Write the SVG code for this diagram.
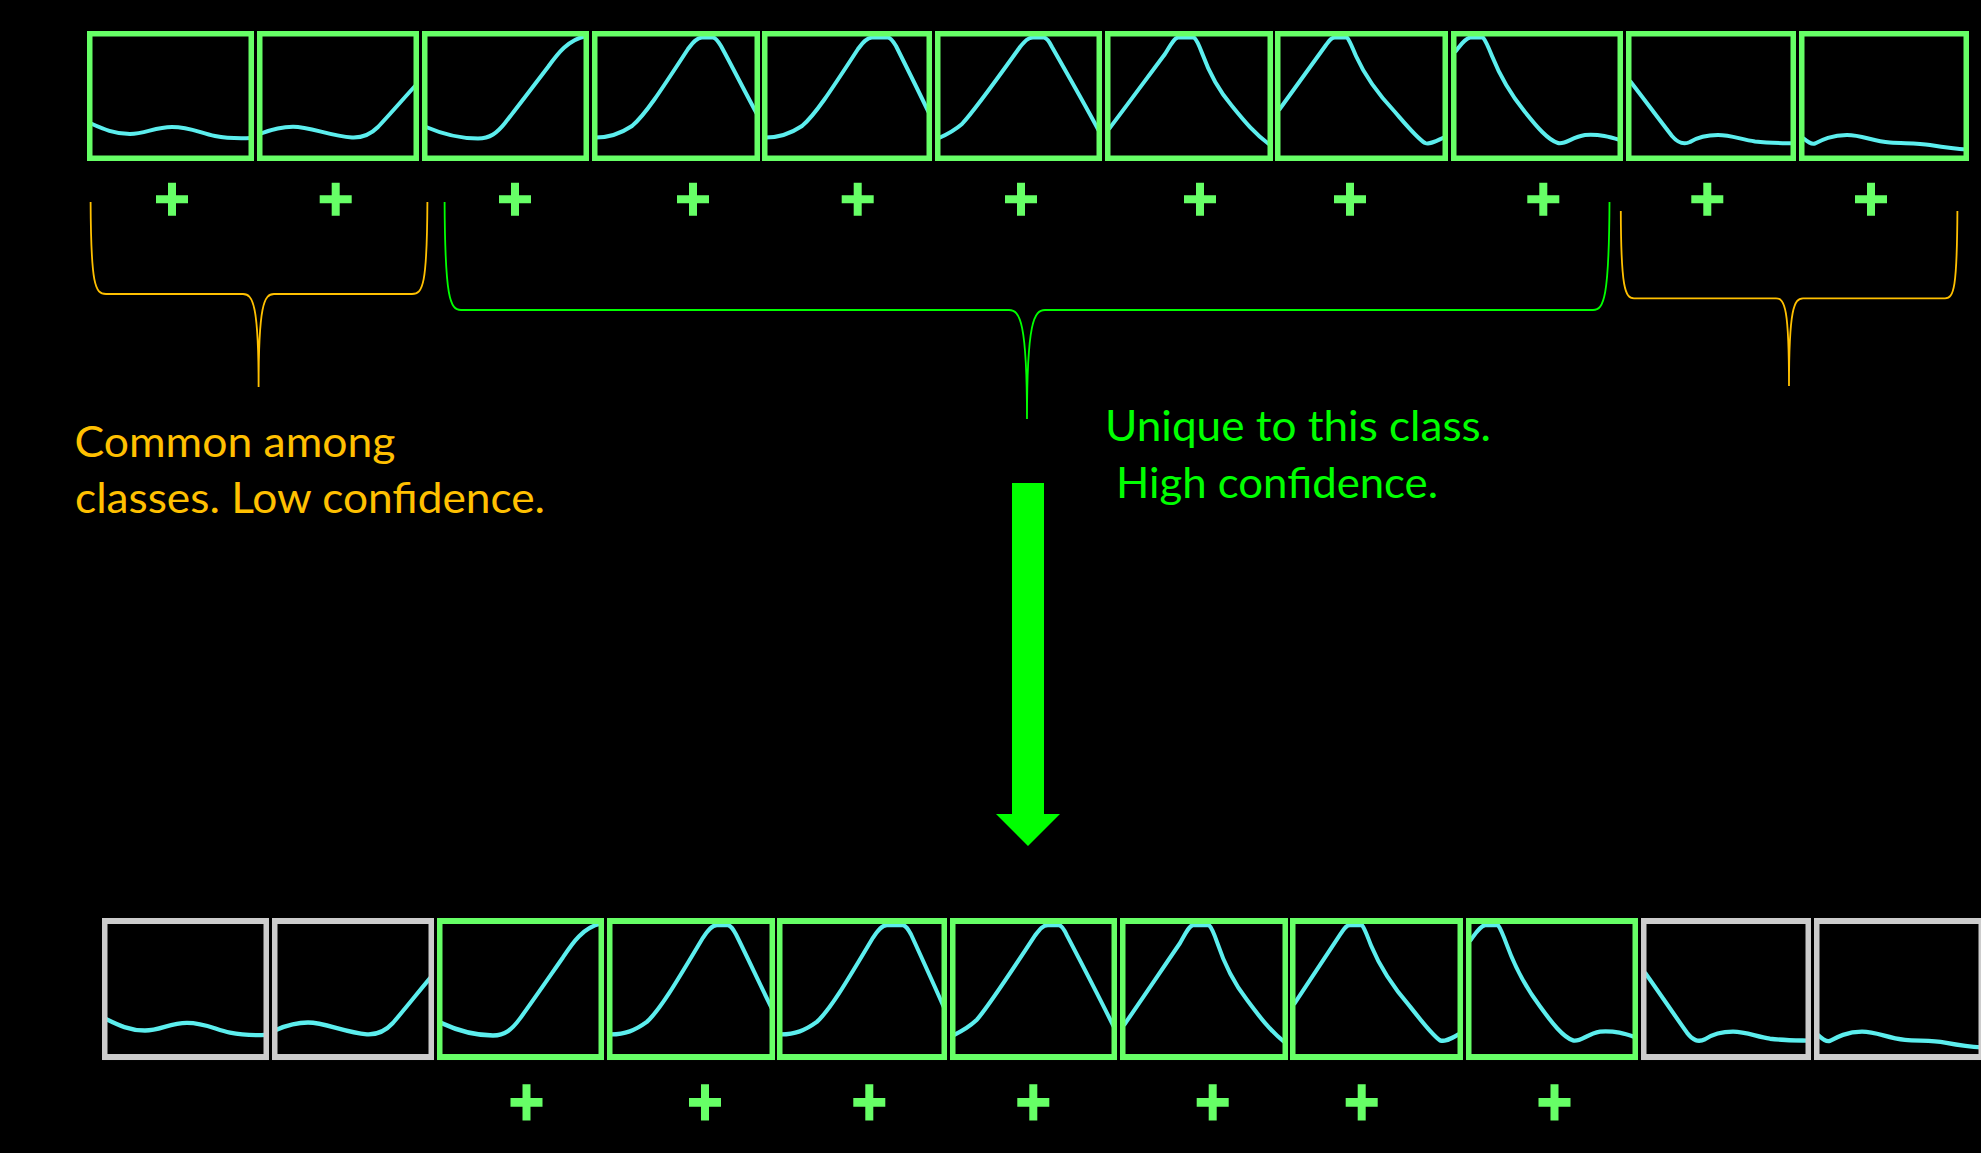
<svg xmlns="http://www.w3.org/2000/svg" xmlns:xlink="http://www.w3.org/1999/xlink" width="1981" height="1153" viewBox="0 0 1981 1153">
<style>
.bx{fill:none;stroke-width:5.5}
.g{stroke:#66FF66}
.gr{stroke:#CCCCCC}
.curve{fill:none;stroke:#5CEEEE;stroke-width:4;stroke-linejoin:round}
.plus{fill:#66FF66}
.brace-o{fill:none;stroke:#FFC000;stroke-width:1.8}
.brace-g{fill:none;stroke:#00FF00;stroke-width:1.8}
.lbl{font-family:Lato,"Liberation Sans",sans-serif;font-size:42px}
.lo{fill:#FFC000}
.lg{fill:#00FF00}
</style>
<defs>
<clipPath id="k1"><rect x="87" y="31" width="167" height="130"/></clipPath>
<clipPath id="k2"><rect x="257" y="31" width="162" height="130"/></clipPath>
<clipPath id="k3"><rect x="422" y="31" width="167" height="130"/></clipPath>
<clipPath id="k4"><rect x="592" y="31" width="168" height="130"/></clipPath>
<clipPath id="k5"><rect x="762" y="31" width="170" height="130"/></clipPath>
<clipPath id="k6"><rect x="935" y="31" width="167" height="130"/></clipPath>
<clipPath id="k7"><rect x="1105" y="31" width="168" height="130"/></clipPath>
<clipPath id="k8"><rect x="1275" y="31" width="173" height="130"/></clipPath>
<clipPath id="k9"><rect x="1451" y="31" width="172" height="130"/></clipPath>
<clipPath id="k10"><rect x="1626" y="31" width="170" height="130"/></clipPath>
<clipPath id="k11"><rect x="1799" y="31" width="170" height="130"/></clipPath>
<path id="c1" class="curve" clip-path="url(#k1)" d="M91 123.5 C103 129 115 134 130 134 C145 134 155 127 172 127 C190 127 200 133 215 136 C228 138.5 240 138.5 251 138"/>
<path id="c2" class="curve" clip-path="url(#k2)" d="M261 133.5 C275 128 285 126.7 293 126.7 C310 126.7 330 136 352 137.5 C362 138 370 135 378 127 C392 112 404 98 416 85"/>
<path id="c3" class="curve" clip-path="url(#k3)" d="M426 127 C440 133 460 138.5 478 138.5 C490 138.5 497 133 505 123 C520 104 535 84 548 67 C558 53 568 40 586 36"/>
<path id="c4" class="curve" clip-path="url(#k4)" d="M596 137.5 C610 137.5 620 134 632 126 C645 115 660 92 688 49 C693 42 697 37.5 702 37.5 L713 37.5 C716 38 718 41 721 46 C733 68 745 92 757 114"/>
<path id="c5" class="curve" clip-path="url(#k5)" d="M766 137.5 C780 137.5 790 134 802 126 C815 115 830 92 858 49 C863 42 867 37.5 872 37.5 L888 37.5 C891 38 893 41 896 46 C907 68 918 90 929 113"/>
<path id="c6" class="curve" clip-path="url(#k6)" d="M939 138 C948 134 955 130 962 124 C975 110 995 82 1020 47 C1025 41 1028 37.5 1033 37.5 L1044 37.5 C1047 38 1049 41 1052 47 C1068 75 1084 103 1099 131"/>
<path id="c7" class="curve" clip-path="url(#k7)" d="M1109 129 C1128 104 1147 78 1165 54 C1170 46 1174 38 1178 37.5 L1194 37.5 C1197 40 1199 45 1202 53 C1210 75 1220 92 1232 106 C1245 122 1255 134 1270 145"/>
<path id="c8" class="curve" clip-path="url(#k8)" d="M1279 110 C1295 88 1311 66 1326 45 C1329 41 1331 37.5 1335 37.5 L1347 37.5 C1350 41 1352 47 1356 56 C1365 76 1378 94 1395 112 C1408 127 1417 138 1425 143 C1430 145 1436 141 1445 137"/>
<path id="c9" class="curve" clip-path="url(#k9)" d="M1455 52 C1460 46 1464 39 1470 37.5 L1483 37.5 C1486 41 1488 46 1492 56 C1500 76 1512 96 1525 112 C1537 127 1548 140 1558 143 C1565 145 1572 137 1585 135 C1600 134 1610 137 1620 140"/>
<path id="c10" class="curve" clip-path="url(#k10)" d="M1630 81 C1644 99 1658 118 1672 136 C1678 143 1683 145 1690 142 C1698 137 1708 135 1718 135 C1730 135 1740 139 1755 141.5 C1770 143 1780 143 1793 143.3"/>
<path id="c11" class="curve" clip-path="url(#k11)" d="M1803 138 C1808 142 1811 144.5 1815 143.5 C1822 140 1832 135 1847 135 C1862 135 1872 141 1890 142.5 C1905 143.5 1918 143 1930 145 C1942 147 1955 149 1967 149.5"/>
<path id="plus" d="M-4 -16.5 H4 V-4 H16 V4 H4 V16.5 H-4 V4 H-16 V-4 H-4 Z"/>
</defs>
<rect x="0" y="0" width="1981" height="1153" fill="#000000"/>

<g id="top-row">
<g id="top-1"><use href="#c1"/><rect class="bx g" x="89.75" y="33.75" width="161.5" height="124.5"/></g>
<g id="top-2"><use href="#c2"/><rect class="bx g" x="259.75" y="33.75" width="156.5" height="124.5"/></g>
<g id="top-3"><use href="#c3"/><rect class="bx g" x="424.75" y="33.75" width="161.5" height="124.5"/></g>
<g id="top-4"><use href="#c4"/><rect class="bx g" x="594.75" y="33.75" width="162.5" height="124.5"/></g>
<g id="top-5"><use href="#c5"/><rect class="bx g" x="764.75" y="33.75" width="164.5" height="124.5"/></g>
<g id="top-6"><use href="#c6"/><rect class="bx g" x="937.75" y="33.75" width="161.5" height="124.5"/></g>
<g id="top-7"><use href="#c7"/><rect class="bx g" x="1107.75" y="33.75" width="162.5" height="124.5"/></g>
<g id="top-8"><use href="#c8"/><rect class="bx g" x="1277.75" y="33.75" width="167.5" height="124.5"/></g>
<g id="top-9"><use href="#c9"/><rect class="bx g" x="1453.75" y="33.75" width="166.5" height="124.5"/></g>
<g id="top-10"><use href="#c10"/><rect class="bx g" x="1628.75" y="33.75" width="164.5" height="124.5"/></g>
<g id="top-11"><use href="#c11"/><rect class="bx g" x="1801.75" y="33.75" width="164.5" height="124.5"/></g>
</g>

<g id="top-plus" class="plus">
<use href="#plus" x="172" y="199.3"/>
<use href="#plus" x="335.7" y="199.3"/>
<use href="#plus" x="515" y="199.3"/>
<use href="#plus" x="693" y="199.3"/>
<use href="#plus" x="857.7" y="199.3"/>
<use href="#plus" x="1021" y="199.3"/>
<use href="#plus" x="1200" y="199.3"/>
<use href="#plus" x="1350" y="199.3"/>
<use href="#plus" x="1543.3" y="199.3"/>
<use href="#plus" x="1707.3" y="199.3"/>
<use href="#plus" x="1871" y="199.3"/>
</g>

<g id="bottom-row">
<g id="bottom-1" transform="translate(15 884.13) scale(1 1.0925)"><use href="#c1"/><rect class="bx gr" x="89.75" y="33.75" width="161.5" height="124.5"/></g>
<g id="bottom-2" transform="translate(15 884.13) scale(1 1.0925)"><use href="#c2"/><rect class="bx gr" x="259.75" y="33.75" width="156.5" height="124.5"/></g>
<g id="bottom-3" transform="translate(15 884.13) scale(1 1.0925)"><use href="#c3"/><rect class="bx g" x="424.75" y="33.75" width="161.5" height="124.5"/></g>
<g id="bottom-4" transform="translate(15 884.13) scale(1 1.0925)"><use href="#c4"/><rect class="bx g" x="594.75" y="33.75" width="162.5" height="124.5"/></g>
<g id="bottom-5" transform="translate(15 884.13) scale(1 1.0925)"><use href="#c5"/><rect class="bx g" x="764.75" y="33.75" width="164.5" height="124.5"/></g>
<g id="bottom-6" transform="translate(15 884.13) scale(1 1.0925)"><use href="#c6"/><rect class="bx g" x="937.75" y="33.75" width="161.5" height="124.5"/></g>
<g id="bottom-7" transform="translate(15 884.13) scale(1 1.0925)"><use href="#c7"/><rect class="bx g" x="1107.75" y="33.75" width="162.5" height="124.5"/></g>
<g id="bottom-8" transform="translate(15 884.13) scale(1 1.0925)"><use href="#c8"/><rect class="bx g" x="1277.75" y="33.75" width="167.5" height="124.5"/></g>
<g id="bottom-9" transform="translate(15 884.13) scale(1 1.0925)"><use href="#c9"/><rect class="bx g" x="1453.75" y="33.75" width="166.5" height="124.5"/></g>
<g id="bottom-10" transform="translate(15 884.13) scale(1 1.0925)"><use href="#c10"/><rect class="bx gr" x="1628.75" y="33.75" width="164.5" height="124.5"/></g>
<g id="bottom-11" transform="translate(15 884.13) scale(1 1.0925)"><use href="#c11"/><rect class="bx gr" x="1801.75" y="33.75" width="164.5" height="124.5"/></g>
</g>

<g id="bottom-plus" class="plus">
<use href="#plus" transform="translate(526.5 1102.3) scale(1 1.1)"/>
<use href="#plus" transform="translate(705 1102.3) scale(1 1.1)"/>
<use href="#plus" transform="translate(869.3 1102.3) scale(1 1.1)"/>
<use href="#plus" transform="translate(1033.3 1102.3) scale(1 1.1)"/>
<use href="#plus" transform="translate(1212.7 1102.3) scale(1 1.1)"/>
<use href="#plus" transform="translate(1361.7 1102.3) scale(1 1.1)"/>
<use href="#plus" transform="translate(1554.5 1102.3) scale(1 1.1)"/>
</g>

<g id="connectors">
<path id="brace-left" class="brace-o" d="M90.6 202 C91 285 95 294 106 294 L243 294 C253 294 258.6 305 258.6 387 C258.6 305 264 294 274 294 L412 294 C423 294 427 285 427.4 202"/>
<path id="brace-middle" class="brace-g" d="M444.6 202 C445 298 450 310 461 310 L1009 310 C1020 310 1027 322 1027 419 C1027 322 1034 310 1045 310 L1593 310 C1604 310 1609 298 1609.5 202"/>
<path id="brace-right" class="brace-o" d="M1620.8 211 C1621 288 1625 298.3 1634 298.3 L1776 298.3 C1785 298.3 1789 309 1789 386 C1789 309 1794 298.3 1803 298.3 L1945 298.3 C1954 298.3 1957 288 1957.4 211"/>
<polygon id="down-arrow" fill="#00FF00" points="1012,483 1044,483 1044,814 1060,814 1028,846 996,814 1012,814"/>
</g>

<g id="label-common">
<text class="lbl lo" x="74.5" y="456.7" textLength="321" lengthAdjust="spacingAndGlyphs">Common among</text>
<text class="lbl lo" x="75" y="513.3" textLength="470" lengthAdjust="spacingAndGlyphs">classes. Low confidence.</text>
</g>
<g id="label-unique">
<text class="lbl lg" x="1105" y="440.7" textLength="386" lengthAdjust="spacingAndGlyphs">Unique to this class.</text>
<text class="lbl lg" x="1116" y="498" textLength="322" lengthAdjust="spacingAndGlyphs">High confidence.</text>
</g>
</svg>
